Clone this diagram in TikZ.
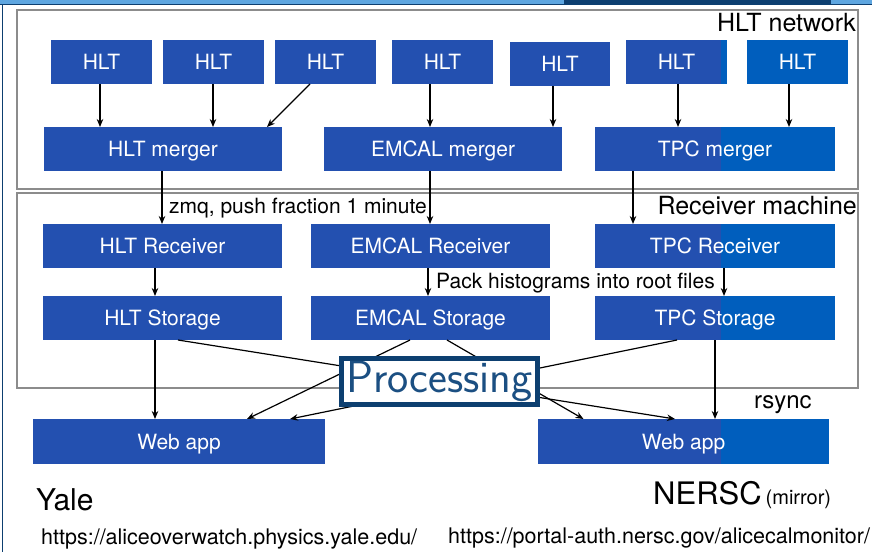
\documentclass[tikz,border=0pt]{standalone}
\usepackage{fontspec}
\setmainfont{TeX Gyre Heros}
\usetikzlibrary{arrows.meta,backgrounds}
\definecolor{boxblue}{HTML}{2350B0}
\definecolor{boxblueR}{HTML}{005EBD}
\definecolor{framegray}{HTML}{8C8C8C}
\definecolor{navy}{HTML}{0D3F70}
\definecolor{proctext}{HTML}{1B4F82}
\definecolor{stripblue}{HTML}{5EA6E0}
\begin{document}
\begin{tikzpicture}[x=1pt,y=-1pt,
  box/.style={rectangle, inner sep=0pt, outer sep=0pt, text=white,
              text height=15pt, text depth=0pt,
              font=\fontsize{21}{25}\selectfont},
  smallbox/.style={box, minimum width=101pt, minimum height=44pt},
  widebox/.style={box, minimum width=239pt, minimum height=44pt},
  webbox/.style={box, minimum width=292pt, minimum height=45pt},
  frame/.style={draw=framegray, line width=1.5pt},
  arr/.style={-{Stealth[length=8pt,width=6.5pt]}, line width=1.2pt},
  lbl/.style={inner sep=0pt, font=\fontsize{21}{25}\selectfont},
  urllbl/.style={inner sep=0pt, font=\fontsize{21.5}{25}\selectfont},
  bigl/.style={inner sep=0pt, font=\fontsize{25}{30}\selectfont},
]
\useasboundingbox (0,0) rectangle (872,552);

% slide edge
\fill[stripblue] (0,0) rectangle (872,3.5);
\fill[navy] (564,0) rectangle (831,3.5);
\draw[navy, line width=1.2pt] (0,4.3) -- (872,4.3);
\draw[navy, line width=1.2pt] (2.5,4.3) -- (2.5,552);

% group frames
\draw[frame] (17,10) rectangle (858,189);
\draw[frame] (17,193) rectangle (858,388);
\node[bigl, anchor=east] (hltnet) at (856,23) {HLT network};
\node[bigl, anchor=east] (recvm) at (857,206) {Receiver machine};

% HLT nodes
\node[smallbox] (h1) at (101.5,62) {HLT};
\node[smallbox] (h2) at (213.5,62) {HLT};
\node[smallbox] (h3) at (325.5,62) {HLT};
\node[smallbox] (h4) at (442.5,62) {HLT};
\node[smallbox, minimum width=100pt] (h5) at (560,64) {HLT};
\node[smallbox] (h6) at (676.5,62) {HLT};
\node[smallbox] (h7) at (797.5,62) {HLT};

% mergers
\node[widebox, minimum width=238pt] (hm) at (163,149) {HLT merger};
\node[widebox, minimum width=238pt] (em) at (443,149) {EMCAL merger};
\node[widebox, minimum width=240pt] (tm) at (715,149) {TPC merger};

% receivers
\node[widebox] (hr) at (162.5,246) {HLT Receiver};
\node[widebox] (er) at (430.5,246) {EMCAL Receiver};
\node[widebox, minimum width=240pt] (tr) at (715,246) {TPC Receiver};

% storage
\node[widebox] (hs) at (162.5,318) {HLT Storage};
\node[widebox] (es) at (430.5,318) {EMCAL Storage};
\node[widebox, minimum width=240pt] (ts) at (715,318) {TPC Storage};

% web apps
\node[webbox] (yweb) at (179,441.5) {Web app};
\node[webbox, minimum width=291pt] (nweb) at (683.5,441.5) {Web app};

% box fills, with the lighter band on the right
\begin{scope}[on background layer]
  \fill[white] (0,0) rectangle (872,552);
  \foreach \b in {h1,h2,h3,h4,h5,h6,h7,hm,em,tm,hr,er,tr,hs,es,ts,yweb,nweb}
    \fill[boxblue] (\b.south west) rectangle (\b.north east);
  \begin{scope}
    \clip (721,0) rectangle (872,552);
    \foreach \b in {h6,h7,tm,tr,ts,nweb}
      \fill[boxblueR] (\b.south west) rectangle (\b.north east);
  \end{scope}
\end{scope}

% HLT -> mergers
\draw[arr] ([xshift=-1.5pt]h1.south) -- ([xshift=-1.5pt]h1.south |- hm.north);
\draw[arr] ([xshift=-0.5pt]h2.south) -- ([xshift=-0.5pt]h2.south |- hm.north);
\draw[arr] ([xshift=-15.5pt]h3.south) -- ([xshift=104pt]hm.north);
\draw[arr] ([xshift=-12.5pt]h4.south) -- ([xshift=-12.5pt]h4.south |- em.north);
\draw[arr] ([xshift=-7pt]h5.south) -- ([xshift=-7pt]h5.south |- em.north);
\draw[arr] ([xshift=1.5pt]h6.south) -- ([xshift=1.5pt]h6.south |- tm.north);
\draw[arr] ([xshift=-8.5pt]h7.south) -- ([xshift=-8.5pt]h7.south |- tm.north);

% mergers -> receivers
\draw[arr] ([xshift=-1pt]hm.south) -- ([xshift=-1pt]hm.south |- hr.north);
\draw[arr] ([xshift=-13pt]em.south) -- ([xshift=-13pt]em.south |- er.north);
\draw[arr] ([xshift=-82pt]tm.south) -- ([xshift=-82pt]tm.south |- tr.north);
\node[lbl, anchor=west] (zmq) at (169,208) {zmq, push fraction 1 minute};

% receivers -> storage
\draw[arr] ([xshift=-7.5pt]hr.south) -- ([xshift=-7.5pt]hr.south |- hs.north);
\draw[arr] ([xshift=-2.5pt]er.south) -- ([xshift=-2.5pt]er.south |- es.north);
\draw[arr] ([xshift=9pt]tr.south) -- ([xshift=9pt]tr.south |- ts.north);
\node[lbl, anchor=west] (pack) at (436,283) {Pack histograms into root files};

% storage -> web apps
\draw[arr] ([xshift=-7.5pt]hs.south) -- ([xshift=-7.5pt]hs.south |- yweb.north);
\draw[arr] (ts.south) -- (ts.south |- nweb.north);
\node[bigl, anchor=west, font=\fontsize{24}{29}\selectfont] (rsync) at (754,405) {rsync};
\draw[arr] ([xshift=-20.5pt]es.south) -- ([xshift=68pt]yweb.north);
\draw[arr] ([xshift=-38pt]ts.south) -- ([xshift=111pt]yweb.north);
\draw[arr] ([xshift=16.5pt]es.south) -- ([xshift=-100pt]nweb.north);
\draw[arr] ([xshift=15.5pt]hs.south) -- ([xshift=-8.5pt]nweb.north);

% processing stage on top of the links
\node[draw=navy, line width=5pt, fill=white, minimum width=196pt,
      minimum height=46pt, inner sep=0pt, text=proctext,
      font=\sffamily\fontsize{45}{50}\selectfont] (proc) at (439.5,381.5) {Processing};

% sites
\node[anchor=base west, inner sep=0pt, font=\fontsize{30}{36}\selectfont] (yale) at (36,510) {Yale};
\node[anchor=base west, inner sep=0pt] (nersc) at (653,504)
  {{\fontsize{31}{36}\selectfont NERSC}\hspace{4pt}{\fontsize{20}{24}\selectfont(mirror)}};
\node[urllbl, anchor=base west] (yurl) at (41,544) {https://aliceoverwatch.physics.yale.edu/};
\node[urllbl, anchor=base west] (nurl) at (448,543) {https://portal-auth.nersc.gov/alicecalmonitor/};
\end{tikzpicture}
\end{document}
